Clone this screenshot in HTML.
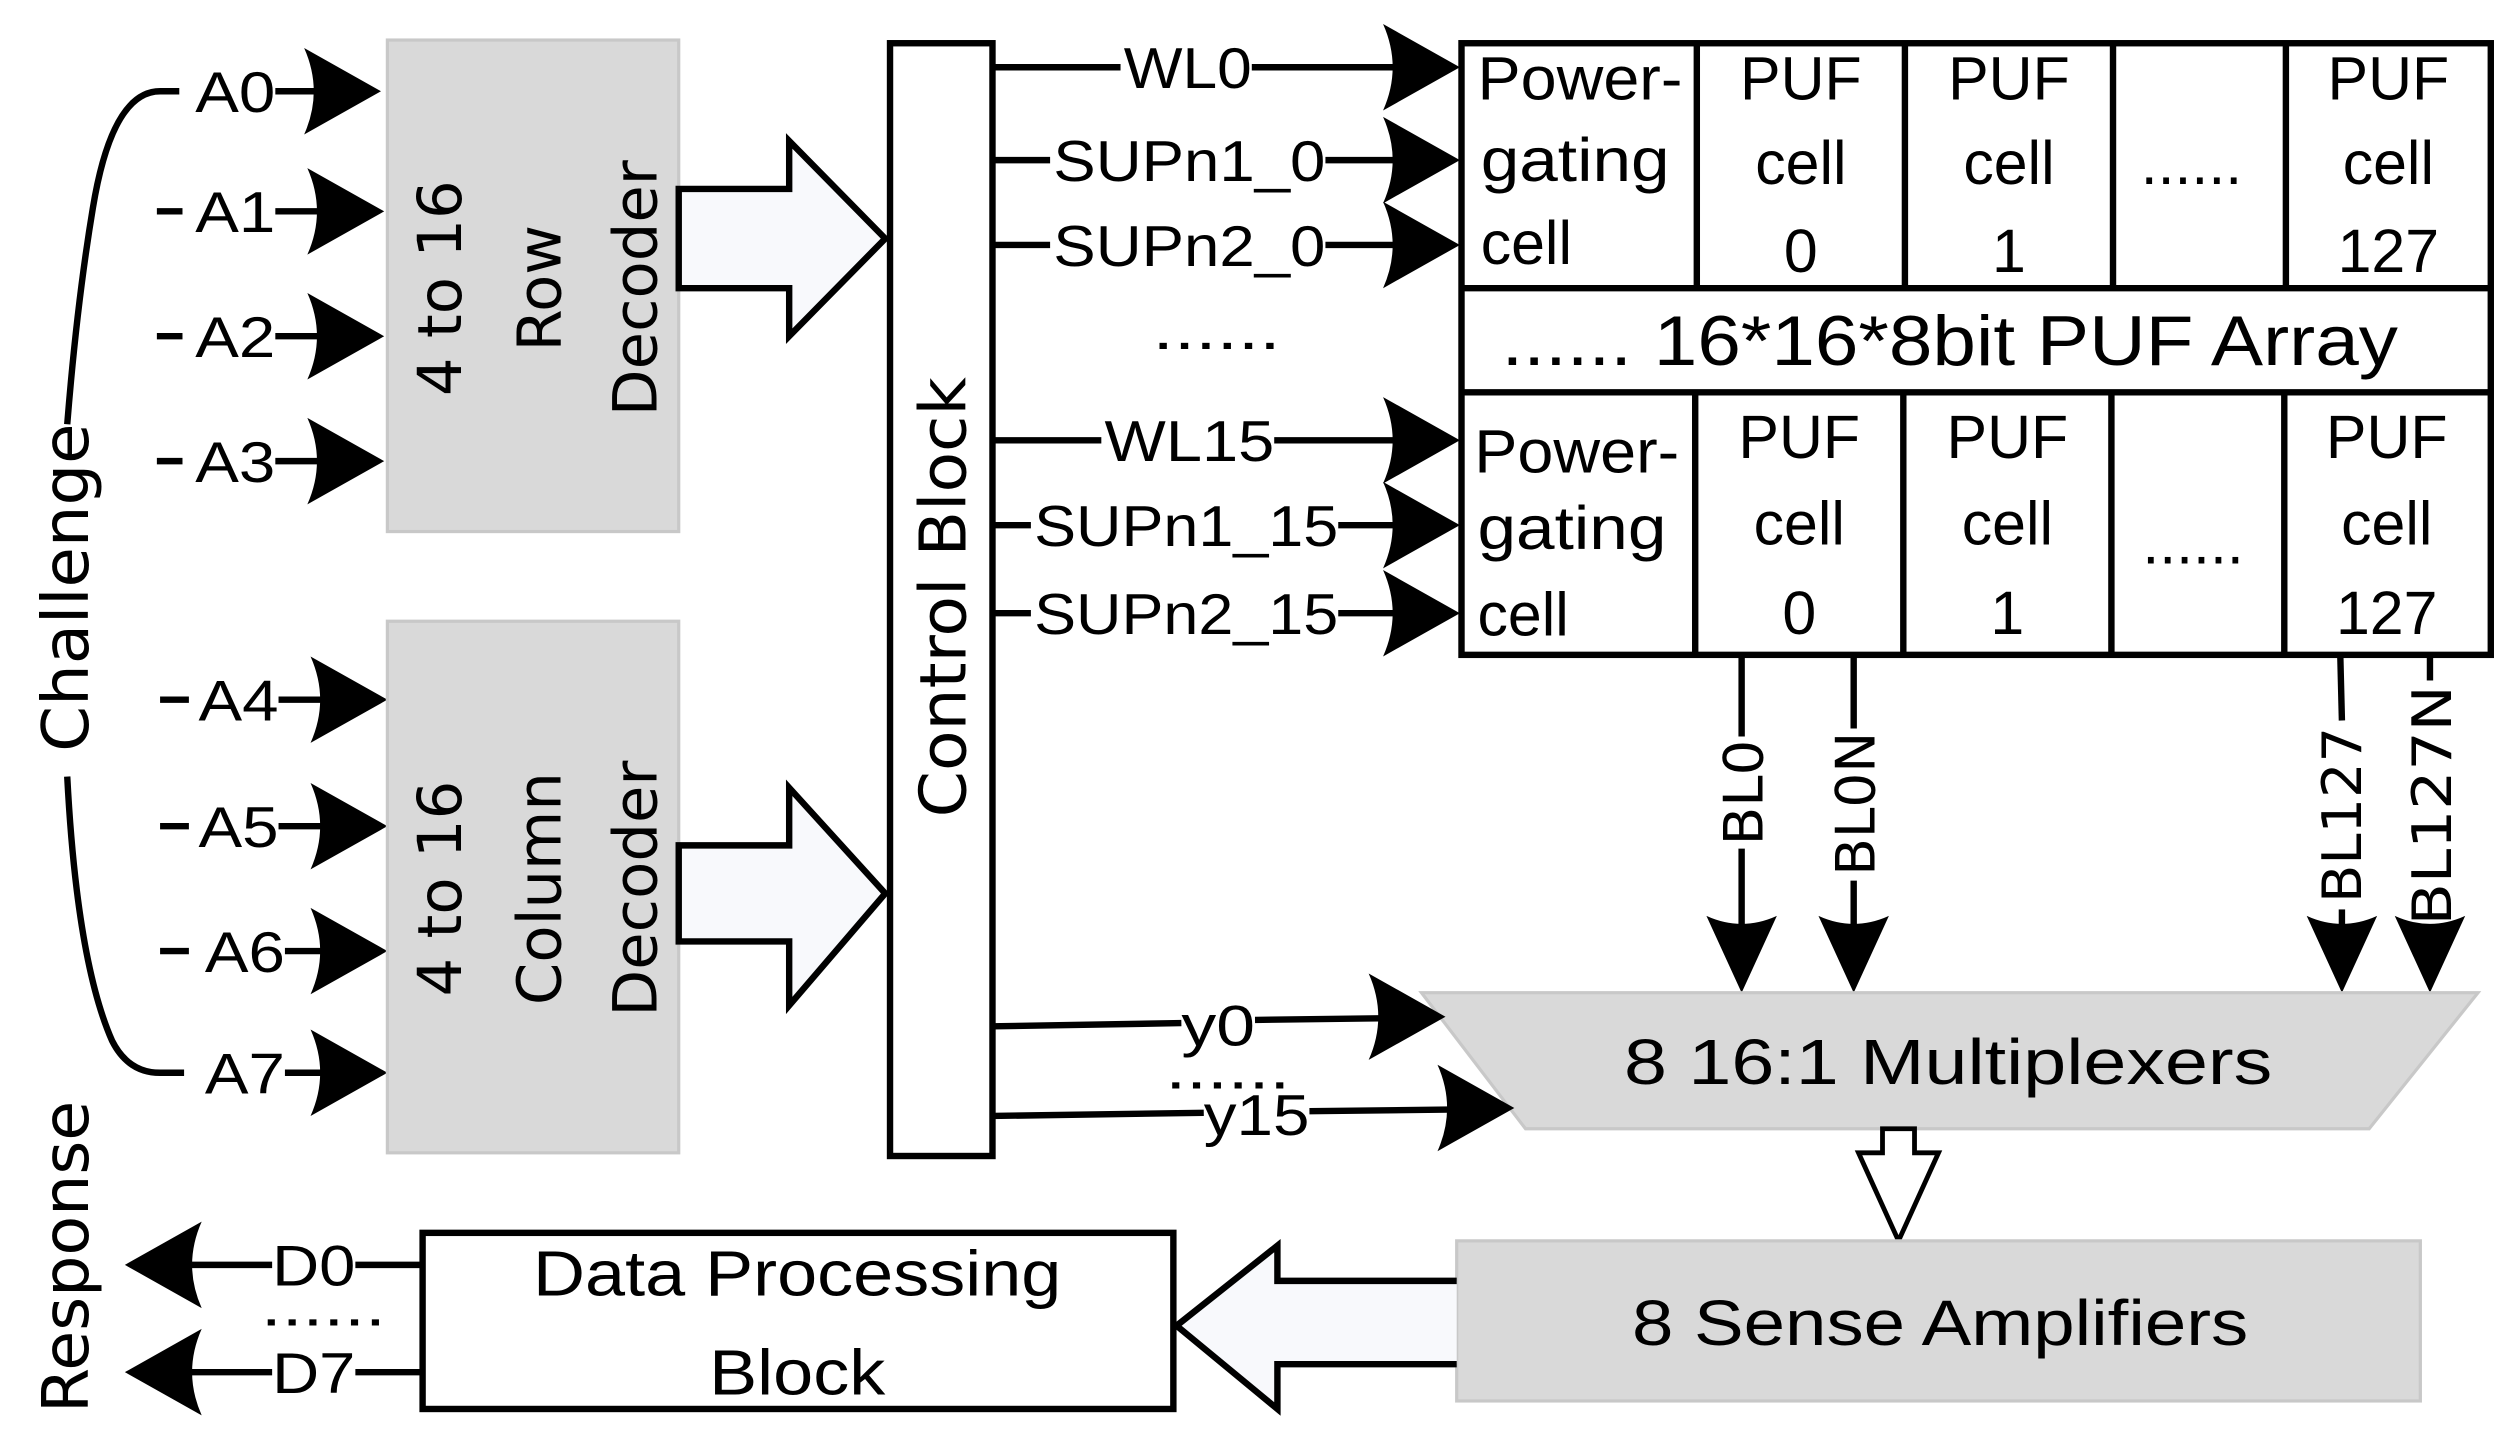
<!DOCTYPE html>
<html><head><meta charset="utf-8"><style>html,body{margin:0;padding:0;background:#fff}svg{display:block}</style></head>
<body>
<svg width="2510" height="1441" viewBox="0 0 1568 900" preserveAspectRatio="none" xmlns="http://www.w3.org/2000/svg">
<defs>
<path id="ar" d="M0,0 L-48,-27 Q-36,0 -48,27 Z" fill="#000"/>
<path id="ad" d="M0,0 L-22,-48 Q0,-38 22,-48 Z" fill="#000"/>
</defs>
<g font-family="Liberation Sans, sans-serif" fill="#000">
<path d="M112,57 L100,57 Q70,57 58,130 Q48,190 42,265" fill="none" stroke="#000" stroke-width="4"/>
<path d="M42,485 Q48,600 70,650 Q80,670 100,670 L115,670" fill="none" stroke="#000" stroke-width="4"/>
<text transform="translate(55,367) rotate(-90)" font-family="DejaVu Sans, sans-serif" font-size="40" text-anchor="middle" textLength="205" lengthAdjust="spacingAndGlyphs">Challenge</text>
<text transform="translate(55,785) rotate(-90)" font-family="DejaVu Sans, sans-serif" font-size="40" text-anchor="middle" textLength="195" lengthAdjust="spacingAndGlyphs">Response</text>

<g stroke="#000" stroke-width="4">
<line x1="172" y1="57" x2="200" y2="57"/>
<line x1="98" y1="132" x2="114" y2="132"/><line x1="172" y1="132" x2="200" y2="132"/>
<line x1="98" y1="210" x2="114" y2="210"/><line x1="172" y1="210" x2="200" y2="210"/>
<line x1="98" y1="288" x2="114" y2="288"/><line x1="172" y1="288" x2="200" y2="288"/>
<line x1="100" y1="437" x2="118" y2="437"/><line x1="174" y1="437" x2="204" y2="437"/>
<line x1="100" y1="516" x2="118" y2="516"/><line x1="174" y1="516" x2="204" y2="516"/>
<line x1="100" y1="594" x2="118" y2="594"/><line x1="178" y1="594" x2="204" y2="594"/>
<line x1="178" y1="670" x2="204" y2="670"/>
</g>
<use href="#ar" x="238" y="57"/><use href="#ar" x="240" y="132"/><use href="#ar" x="240" y="210"/><use href="#ar" x="240" y="288"/>
<use href="#ar" x="242" y="437"/><use href="#ar" x="242" y="516"/><use href="#ar" x="242" y="594"/><use href="#ar" x="242" y="670"/>
<g font-size="36">
<text x="122" y="70" textLength="50" lengthAdjust="spacingAndGlyphs">A0</text>
<text x="122" y="145" textLength="50" lengthAdjust="spacingAndGlyphs">A1</text>
<text x="122" y="223" textLength="50" lengthAdjust="spacingAndGlyphs">A2</text>
<text x="122" y="301" textLength="50" lengthAdjust="spacingAndGlyphs">A3</text>
<text x="124" y="450" textLength="50" lengthAdjust="spacingAndGlyphs">A4</text>
<text x="124" y="529" textLength="50" lengthAdjust="spacingAndGlyphs">A5</text>
<text x="128" y="607" textLength="50" lengthAdjust="spacingAndGlyphs">A6</text>
<text x="128" y="683" textLength="50" lengthAdjust="spacingAndGlyphs">A7</text>
</g>

<rect x="242" y="25" width="182" height="307" fill="#d9d9d9" stroke="#c8c8c8" stroke-width="2"/>
<rect x="242" y="388" width="182" height="332" fill="#d9d9d9" stroke="#c8c8c8" stroke-width="2"/>
<g font-family="DejaVu Sans, sans-serif" font-size="38" text-anchor="middle">
<text transform="translate(288,180) rotate(-90)">4 to 16</text>
<text transform="translate(350,180) rotate(-90)">Row</text>
<text transform="translate(410,180) rotate(-90)">Decoder</text>
<text transform="translate(288,555) rotate(-90)">4 to 16</text>
<text transform="translate(350,555) rotate(-90)">Column</text>
<text transform="translate(410,555) rotate(-90)">Decoder</text>
</g>
<path d="M424,118 L493,118 L493,88 L553,149 L493,210 L493,180 L424,180 Z" fill="#f8f9fc" stroke="#000" stroke-width="4"/>
<path d="M424,528 L493,528 L493,492 L553,558 L493,628 L493,588 L424,588 Z" fill="#f8f9fc" stroke="#000" stroke-width="4"/>

<rect x="556" y="27" width="64" height="695" fill="#fff" stroke="#000" stroke-width="4"/>
<text transform="translate(603,373) rotate(-90)" font-family="DejaVu Sans, sans-serif" font-size="40" text-anchor="middle" textLength="275" lengthAdjust="spacingAndGlyphs">Control Block</text>

<g stroke="#000" stroke-width="4">
<line x1="620" y1="42" x2="700" y2="42"/><line x1="782" y1="42" x2="872" y2="42"/>
<line x1="620" y1="100" x2="656" y2="100"/><line x1="828" y1="100" x2="872" y2="100"/>
<line x1="620" y1="153" x2="656" y2="153"/><line x1="828" y1="153" x2="872" y2="153"/>
<line x1="620" y1="275" x2="688" y2="275"/><line x1="796" y1="275" x2="872" y2="275"/>
<line x1="620" y1="328" x2="644" y2="328"/><line x1="836" y1="328" x2="872" y2="328"/>
<line x1="620" y1="383" x2="644" y2="383"/><line x1="836" y1="383" x2="872" y2="383"/>
</g>
<use href="#ar" x="912" y="42"/><use href="#ar" x="912" y="100"/><use href="#ar" x="912" y="153"/>
<use href="#ar" x="912" y="275"/><use href="#ar" x="912" y="328"/><use href="#ar" x="912" y="383"/>
<g font-size="36">
<text x="702" y="55" textLength="80" lengthAdjust="spacingAndGlyphs">WL0</text>
<text x="658" y="113" textLength="170" lengthAdjust="spacingAndGlyphs">SUPn1_0</text>
<text x="658" y="166" textLength="170" lengthAdjust="spacingAndGlyphs">SUPn2_0</text>
<text x="720" y="218" textLength="80" lengthAdjust="spacingAndGlyphs">......</text>
<text x="690" y="288" textLength="106" lengthAdjust="spacingAndGlyphs">WL15</text>
<text x="646" y="341" textLength="190" lengthAdjust="spacingAndGlyphs">SUPn1_15</text>
<text x="646" y="396" textLength="190" lengthAdjust="spacingAndGlyphs">SUPn2_15</text>
</g>

<g fill="none" stroke="#000" stroke-width="4">
<rect x="913" y="27" width="643" height="382"/>
<line x1="913" y1="180" x2="1556" y2="180"/><line x1="913" y1="245" x2="1556" y2="245"/>
<line x1="1060" y1="27" x2="1060" y2="180"/><line x1="1190" y1="27" x2="1190" y2="180"/><line x1="1320" y1="27" x2="1320" y2="180"/><line x1="1428" y1="27" x2="1428" y2="180"/>
<line x1="1059" y1="245" x2="1059" y2="409"/><line x1="1189" y1="245" x2="1189" y2="409"/><line x1="1319" y1="245" x2="1319" y2="409"/><line x1="1427" y1="245" x2="1427" y2="409"/>
</g>
<g font-size="38">
<text x="923" y="62" textLength="128" lengthAdjust="spacingAndGlyphs">Power-</text>
<text x="925" y="113" textLength="118" lengthAdjust="spacingAndGlyphs">gating</text>
<text x="925" y="165">cell</text>
<text x="921" y="295" textLength="128" lengthAdjust="spacingAndGlyphs">Power-</text>
<text x="923" y="343" textLength="118" lengthAdjust="spacingAndGlyphs">gating</text>
<text x="923" y="397">cell</text>
</g>
<g font-size="38" text-anchor="middle">
<text x="1125" y="62">PUF</text><text x="1125" y="115">cell</text><text x="1125" y="170">0</text>
<text x="1255" y="62">PUF</text><text x="1255" y="115">cell</text><text x="1255" y="170">1</text>
<text x="1369" y="115">......</text>
<text x="1492" y="62">PUF</text><text x="1492" y="115">cell</text><text x="1492" y="170">127</text>
<text x="1124" y="286">PUF</text><text x="1124" y="340">cell</text><text x="1124" y="396">0</text>
<text x="1254" y="286">PUF</text><text x="1254" y="340">cell</text><text x="1254" y="396">1</text>
<text x="1370" y="352">......</text>
<text x="1491" y="286">PUF</text><text x="1491" y="340">cell</text><text x="1491" y="396">127</text>
</g>
<text x="938" y="228" font-size="44" textLength="560" lengthAdjust="spacingAndGlyphs">......  16*16*8bit PUF Array</text>

<g stroke="#000" stroke-width="4">
<line x1="1088" y1="410" x2="1088" y2="460"/><line x1="1088" y1="530" x2="1088" y2="580"/>
<line x1="1158" y1="410" x2="1158" y2="455"/><line x1="1158" y1="550" x2="1158" y2="580"/>
<line x1="1462" y1="410" x2="1463" y2="450"/><line x1="1463" y1="568" x2="1463" y2="580"/>
<line x1="1518" y1="410" x2="1518" y2="425"/><line x1="1518" y1="582" x2="1518" y2="585"/>
</g>
<use href="#ad" x="1088" y="620"/><use href="#ad" x="1158" y="620"/><use href="#ad" x="1463" y="620"/><use href="#ad" x="1518" y="620"/>
<g font-family="DejaVu Sans, sans-serif" font-size="34" text-anchor="middle">
<text transform="translate(1101,495) rotate(-90)" textLength="66" lengthAdjust="spacingAndGlyphs">BL0</text>
<text transform="translate(1171,502) rotate(-90)" textLength="90" lengthAdjust="spacingAndGlyphs">BL0N</text>
<text transform="translate(1475,509) rotate(-90)" textLength="110" lengthAdjust="spacingAndGlyphs">BL127</text>
<text transform="translate(1531,503) rotate(-90)" textLength="150" lengthAdjust="spacingAndGlyphs">BL127N</text>
</g>

<path d="M888,620 L1548,620 L1480,705 L953,705 Z" fill="#d9d9d9" stroke="#c8c8c8" stroke-width="2"/>
<text x="1217" y="677" font-size="40" text-anchor="middle" textLength="405" lengthAdjust="spacingAndGlyphs">8 16:1 Multiplexers</text>
<g stroke="#000" stroke-width="4">
<line x1="620" y1="641" x2="738" y2="639"/><line x1="784" y1="637" x2="862" y2="636"/>
<line x1="620" y1="697" x2="752" y2="695"/><line x1="818" y1="694" x2="905" y2="693"/>
</g>
<use href="#ar" x="903" y="635"/><use href="#ar" x="946" y="692"/>
<g font-size="36">
<text x="738" y="653" textLength="46" lengthAdjust="spacingAndGlyphs">y0</text>
<text x="728" y="680" textLength="78" lengthAdjust="spacingAndGlyphs">......</text>
<text x="752" y="709" textLength="66" lengthAdjust="spacingAndGlyphs">y15</text>
</g>

<path d="M1176,705 L1196,705 L1196,720 L1211,720 L1186,775 L1161,720 L1176,720 Z" fill="#fff" stroke="#000" stroke-width="3"/>

<rect x="910" y="775" width="602" height="100" fill="#d9d9d9" stroke="#c8c8c8" stroke-width="2"/>
<text x="1212" y="840" font-size="40" text-anchor="middle" textLength="385" lengthAdjust="spacingAndGlyphs">8 Sense Amplifiers</text>
<path d="M910,800 L798,800 L798,778 L735,828 L798,880 L798,852 L910,852" fill="#f8f9fc" stroke="#000" stroke-width="4"/>

<rect x="264" y="770" width="469" height="110" fill="#fff" stroke="#000" stroke-width="4"/>
<text x="498" y="809" font-size="40" text-anchor="middle" textLength="330" lengthAdjust="spacingAndGlyphs">Data Processing</text>
<text x="498" y="871" font-size="40" text-anchor="middle" textLength="110" lengthAdjust="spacingAndGlyphs">Block</text>
<g stroke="#000" stroke-width="4">
<line x1="264" y1="790" x2="222" y2="790"/><line x1="170" y1="790" x2="115" y2="790"/>
<line x1="264" y1="857" x2="222" y2="857"/><line x1="170" y1="857" x2="115" y2="857"/>
</g>
<path d="M78,790 L126,763 Q114,790 126,817 Z"/>
<path d="M78,857 L126,830 Q114,857 126,884 Z"/>
<g font-size="36">
<text x="170" y="803" textLength="52" lengthAdjust="spacingAndGlyphs">D0</text>
<text x="163" y="828" textLength="78" lengthAdjust="spacingAndGlyphs">......</text>
<text x="170" y="870" textLength="52" lengthAdjust="spacingAndGlyphs">D7</text>
</g>
</g>
</svg>
</body></html>
